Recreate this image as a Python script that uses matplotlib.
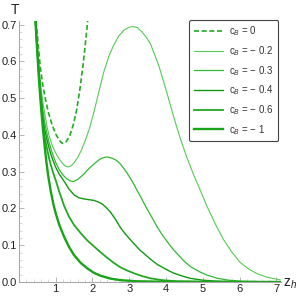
import matplotlib
matplotlib.use("Agg")
import matplotlib.pyplot as plt
from matplotlib.ticker import MultipleLocator

# ---------------------------------------------------------------
# Data: T(z_h) for several c_B
# ---------------------------------------------------------------
z_c0 = [0.47, 0.52, 0.58, 0.65, 0.72, 0.80, 0.90, 1.00, 1.10, 1.18, 1.28,
        1.38, 1.48, 1.57, 1.66, 1.75, 1.82, 1.87]
T_c0 = [0.71, 0.65, 0.585, 0.535, 0.498, 0.462, 0.428, 0.403, 0.385, 0.377,
        0.381, 0.397, 0.428, 0.468, 0.525, 0.595, 0.66, 0.71]

z_c02 = [0.45, 0.50, 0.55, 0.60, 0.65, 0.70, 0.76, 0.82, 0.90, 0.96, 1.05,
         1.15, 1.25, 1.32, 1.40, 1.50, 1.60, 1.70, 1.80, 1.91, 2.04, 2.18,
         2.31, 2.45, 2.58, 2.72, 2.87, 3.00, 3.10, 3.22, 3.35, 3.47, 3.58,
         3.80, 4.03, 4.20, 4.39, 4.57, 4.75, 4.93, 5.11, 5.33, 5.56, 5.80,
         6.02, 6.25, 6.47, 6.75, 7.10]
T_c02 = [0.71, 0.64, 0.58, 0.53, 0.49, 0.46, 0.425, 0.398, 0.373, 0.359,
         0.342, 0.327, 0.316, 0.313, 0.315, 0.324, 0.339, 0.359, 0.384,
         0.415, 0.462, 0.52, 0.572, 0.615, 0.645, 0.670, 0.686, 0.693, 0.695,
         0.692, 0.680, 0.665, 0.647, 0.59, 0.513, 0.452, 0.390, 0.338, 0.292,
         0.25, 0.207, 0.16, 0.116, 0.080, 0.053, 0.035, 0.023, 0.013, 0.006]

z_c03 = [0.45, 0.50, 0.55, 0.60, 0.65, 0.70, 0.76, 0.82, 0.90, 1.00, 1.10,
         1.20, 1.30, 1.40, 1.48, 1.60, 1.75, 1.90, 2.05, 2.20, 2.32, 2.42,
         2.55, 2.65, 2.76, 2.86, 2.95, 3.05, 3.12, 3.21, 3.31, 3.45, 3.58,
         3.76, 3.90, 4.03, 4.21, 4.48, 4.66, 4.93, 5.11, 5.40, 5.70, 6.10,
         7.10]
T_c03 = [0.71, 0.635, 0.57, 0.515, 0.47, 0.435, 0.405, 0.38, 0.353, 0.325,
         0.305, 0.291, 0.281, 0.275, 0.273, 0.279, 0.292, 0.308, 0.322, 0.334,
         0.339, 0.340, 0.336, 0.331, 0.321, 0.308, 0.295, 0.279, 0.267, 0.250,
         0.232, 0.205, 0.182, 0.150, 0.128, 0.110, 0.087, 0.058, 0.042, 0.027,
         0.019, 0.010, 0.005, 0.002, 0.0]

z_c04 = [0.45, 0.50, 0.55, 0.60, 0.65, 0.70, 0.78, 0.86, 0.93, 1.00, 1.10,
         1.23, 1.36, 1.50, 1.63, 1.77, 1.90, 2.04, 2.15, 2.27, 2.40, 2.49,
         2.63, 2.76, 2.90, 3.12, 3.31, 3.58, 3.76, 4.03, 4.21, 4.48, 4.66,
         5.00, 5.40, 6.00, 7.10]
T_c04 = [0.71, 0.63, 0.56, 0.50, 0.45, 0.415, 0.38, 0.35, 0.33, 0.312, 0.293,
         0.274, 0.253, 0.237, 0.229, 0.226, 0.224, 0.222, 0.218, 0.212, 0.200,
         0.190, 0.170, 0.148, 0.130, 0.105, 0.085, 0.062, 0.048, 0.033, 0.024,
         0.015, 0.010, 0.005, 0.002, 0.0005, 0.0]

z_c06 = [0.45, 0.50, 0.55, 0.60, 0.65, 0.70, 0.74, 0.82, 0.90, 1.00, 1.10,
         1.23, 1.36, 1.50, 1.68, 1.86, 2.04, 2.22, 2.40, 2.58, 2.76, 2.95,
         3.12, 3.35, 3.58, 3.90, 4.30, 5.00, 7.10]
T_c06 = [0.71, 0.63, 0.555, 0.49, 0.435, 0.395, 0.375, 0.337, 0.307, 0.277,
         0.245, 0.207, 0.178, 0.155, 0.133, 0.113, 0.097, 0.081, 0.066, 0.052,
         0.040, 0.031, 0.024, 0.016, 0.010, 0.005, 0.002, 0.0005, 0.0]

z_c1 = [0.45, 0.50, 0.55, 0.60, 0.65, 0.70, 0.75, 0.80, 0.87, 0.94, 1.00,
        1.10, 1.23, 1.36, 1.50, 1.68, 1.86, 2.04, 2.22, 2.50, 2.76, 3.20,
        4.00, 7.10]
T_c1 = [0.71, 0.625, 0.545, 0.478, 0.42, 0.37, 0.325, 0.287, 0.245, 0.211,
        0.187, 0.155, 0.123, 0.096, 0.073, 0.052, 0.037, 0.025, 0.017, 0.009,
        0.005, 0.002, 0.0005, 0.0]

labels = ["c$_B$ = 0", "c$_B$ = \u2212 0.2", "c$_B$ = \u2212 0.3",
          "c$_B$ = \u2212 0.4", "c$_B$ = \u2212 0.6", "c$_B$ = \u2212 1"]

plt.rcParams["font.family"] = ["Liberation Sans", "DejaVu Sans"]
plt.rcParams["mathtext.fontset"] = "custom"
plt.rcParams["mathtext.rm"] = "Liberation Sans"
plt.rcParams["mathtext.it"] = "Liberation Sans:italic"

fig = plt.figure(figsize=(3, 3), dpi=100)
ax = fig.add_axes([0.063, 0.06, 0.874, 0.87])

ax.plot(z_c0, T_c0, color="#22aa22", lw=1.2, ls=(0, (3.0, 1.6)), label=labels[0])
ax.plot(z_c02, T_c02, color="#55cc55", lw=0.8, label=labels[1])
ax.plot(z_c03, T_c03, color="#33b833", lw=0.9, label=labels[2])
ax.plot(z_c04, T_c04, color="#109a10", lw=1.0, label=labels[3])
ax.plot(z_c06, T_c06, color="#22a822", lw=1.3, label=labels[4])
ax.plot(z_c1, T_c1, color="#18a418", lw=1.7, label=labels[5])

ax.set_xlim(0, 7.13)
ax.set_ylim(0, 0.71)

for s in ["top", "right"]:
    ax.spines[s].set_visible(False)
for s in ["left", "bottom"]:
    ax.spines[s].set_color("#aaaaaa")
    ax.spines[s].set_linewidth(0.8)

ax.set_xticks([1, 2, 3, 4, 5, 6, 7])
ax.set_yticks([0.0, 0.1, 0.2, 0.3, 0.4, 0.5, 0.6, 0.7])
ax.set_yticklabels(["0.0", "0.1", "0.2", "0.3", "0.4", "0.5", "0.6", "0.7"])
ax.xaxis.set_minor_locator(MultipleLocator(0.2))
ax.yaxis.set_minor_locator(MultipleLocator(0.02))
ax.tick_params(which="major", direction="in", length=3.5, width=0.6,
               color="#aaaaaa", labelsize=8, labelcolor="#222222", pad=1.5)
ax.tick_params(which="minor", direction="in", length=2, width=0.4,
               color="#bbbbbb")

fig.text(0.035, 0.945, "T", fontsize=10, color="#222222", va="bottom")
fig.text(0.943, 0.055, "z$_h$", fontsize=10, color="#222222", va="center")

leg = ax.legend(loc="upper right", bbox_to_anchor=(0.99, 1.005),
                borderaxespad=0, fontsize=7, handlelength=3.0,
                handletextpad=0.6, labelspacing=0.6, borderpad=0.5,
                frameon=True, fancybox=True, framealpha=1)
leg.get_frame().set_edgecolor("#444444")
leg.get_frame().set_linewidth(0.8)
for t in leg.get_texts():
    t.set_color("#333333")

fig.savefig("out.png", dpi=100)
